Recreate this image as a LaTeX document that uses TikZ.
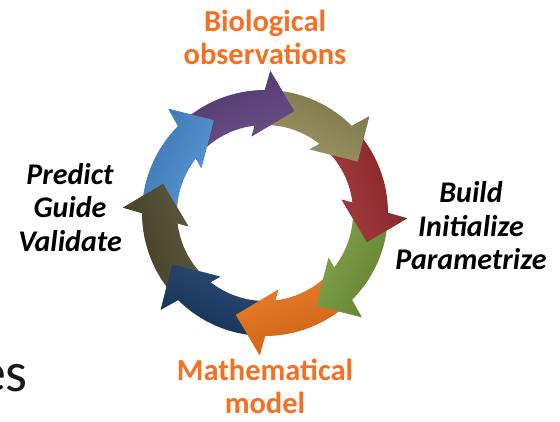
\documentclass[tikz,border=0pt]{standalone}
\usepackage{fontspec}
\setmainfont{Carlito}
\definecolor{labelorange}{RGB}{245,112,35}
\definecolor{arrPurple}{RGB}{92,62,125}
\definecolor{arrKhaki}{RGB}{146,137,84}
\definecolor{arrRed}{RGB}{152,40,44}
\definecolor{arrGreen}{RGB}{116,152,58}
\definecolor{arrOrange}{RGB}{232,112,20}
\definecolor{arrNavy}{RGB}{22,56,100}
\definecolor{arrDarkOlive}{RGB}{76,71,42}
\definecolor{arrBlue}{RGB}{72,138,208}
% outline of one curved block arrow whose tip lies at angle \t
\def\arrowoutline{({\t+16.05}:123pt) arc[start angle={\t+16.05}, end angle={\t+59}, radius=123pt]
    -- ({\t+59}:88pt) arc[start angle={\t+59}, end angle={\t+22.73}, radius=88pt]
    -- ({\t+25.9}:77.8pt) -- ({\t}:106pt) -- ({\t+13.84}:142.1pt) -- cycle}
% the head alone
\def\headoutline{({\t+25.9}:77.8pt) -- ({\t}:106pt) -- ({\t+13.84}:142.1pt) -- cycle}
\def\arrowlist{74/arrPurple, 29/arrKhaki, -16/arrRed, -61/arrGreen,
               -106/arrOrange, -151/arrNavy, -196/arrDarkOlive, -241/arrBlue}
\begin{document}
\begin{tikzpicture}[x=1pt,y=1pt,
  stagelabel/.style={font=\fontsize{30.5}{33}\selectfont\bfseries, text=labelorange, inner sep=0pt, anchor=base},
  steplabel/.style={font=\fontsize{30}{33}\selectfont\bfseries\itshape, text=black, inner sep=0pt, anchor=base},
]
\useasboundingbox (0,0) rectangle (560,422);
\clip (0,0) rectangle (560,422);
\fill[white] (0,0) rectangle (560,422);

% ring of eight arrows running clockwise: first all of them whole,
% then every head once more, so that it lies over the next tail
\begin{scope}[shift={(265,209)}]
\foreach \t/\col in \arrowlist {
  \pgfmathsetmacro\sa{\t-55}
  \shade[top color=\col!86!black, bottom color=\col!90!white, shading angle=\sa] \arrowoutline;
}
\foreach \t/\col in \arrowlist {
  \pgfmathsetmacro\sa{\t-55}
  \begin{scope}
    \clip \headoutline;
    \shade[top color=\col!86!black, bottom color=\col!90!white, shading angle=\sa] \arrowoutline;
  \end{scope}
}
\end{scope}

% stage labels
\node[stagelabel] (obsA) at (265,390) {Biological};
\node[stagelabel] (obsB) at (265,357) {observations};
\node[stagelabel] (modA) at (265,41) {Mathematical};
\node[stagelabel] (modB) at (265,8) {model};

% step labels
\node[steplabel] (buildA) at (471,219) {Build};
\node[steplabel] (buildB) at (471,185) {Initialize};
\node[steplabel] (buildC) at (471,152) {Parametrize};
\node[steplabel] (predA) at (70,237) {Predict};
\node[steplabel] (predB) at (70,204) {Guide};
\node[steplabel] (predC) at (70,170) {Validate};

% word ending at the left edge
\node[font=\fontsize{56}{60}\selectfont, text=black!90, inner sep=0pt, anchor=base east] (bullet) at (28,30) {es};
\end{tikzpicture}
\end{document}
